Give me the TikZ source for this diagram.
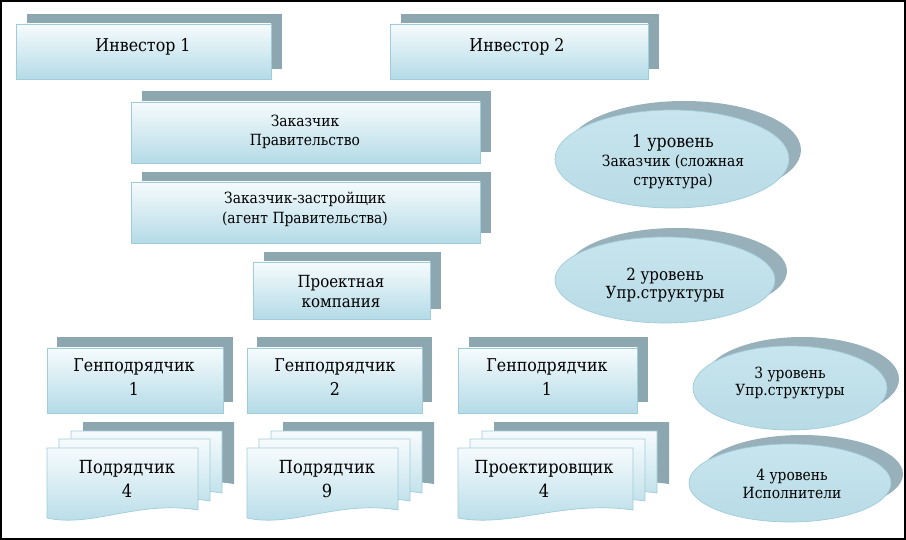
\documentclass[tikz,border=0pt]{standalone}
\usepackage{fontspec}
\setmainfont{DejaVu Serif}[Scale=0.88, FakeStretch=0.9]
\newfontfamily\tnr{DejaVu Serif}[Scale=0.88, FakeStretch=0.9]
\definecolor{shadowc}{RGB}{141,167,177}
\definecolor{eshadow}{RGB}{152,176,186}
\definecolor{boxtop}{RGB}{246,251,253}
\definecolor{boxbot}{RGB}{180,219,231}
\definecolor{boxline}{RGB}{160,204,218}
\definecolor{elltop}{RGB}{200,229,238}
\definecolor{ellmid}{RGB}{230,243,247}
\definecolor{ellbot}{RGB}{184,219,230}
\newcommand\mkbox[6]{%
  \fill[shadowc] ({#1+#5},{#2-#6}) rectangle ({#3+#5},{#4-#6});
  \path[frontst] ({#1},{#2}) rectangle ({#3},{#4});}
\newcommand\mkdoc[4]{%
  \path[#1] ({#2},{#3}) -- ({#2+#4},{#3}) -- ({#2+#4},{#3+62})
    .. controls ({#2+0.6*#4},{#3+52}) and ({#2+0.3*#4},{#3+80}) .. ({#2},{#3+70}) -- cycle;}
\newcommand\mkstack[3]{%
  \mkdoc{shd}{#1+36}{#2-26}{#3}
  \mkdoc{frontst}{#1+24}{#2-17}{#3}
  \mkdoc{frontst}{#1+12}{#2-9}{#3}
  \mkdoc{frontst}{#1}{#2}{#3}}
\newcommand\mkell[4]{%
  \fill[eshadow] ({#1+12},{#2-9}) ellipse [x radius=#3, y radius=#4];
  \path[ellst] ({#1},{#2}) ellipse [x radius=#3, y radius=#4];}
\begin{document}
\begin{tikzpicture}[x=1pt,y=-1pt,
  shd/.style={fill=shadowc, draw=none},
  frontst/.style={top color=boxtop, bottom color=boxbot, draw=boxline, line width=0.7pt},
  ellst/.style={top color=elltop, middle color=ellmid, bottom color=ellbot, draw=boxline, line width=0.7pt},
  lbl/.style={align=center, inner sep=0pt, text=black}]
\useasboundingbox (0,0) rectangle (906,540);
\fill[white] (0,0) rectangle (906,540);

% level 0: investors
\mkbox{16}{24}{271}{79}{11}{10}
\mkbox{390}{24}{648}{79}{11}{10}
\node[lbl, font=\tnr\fontsize{20}{24}\selectfont] (inv1) at (143,47) {Инвестор 1};
\node[lbl, font=\tnr\fontsize{20}{24}\selectfont] (inv2) at (517,47) {Инвестор 2};

% level 1
\mkbox{131}{102}{480}{163}{11}{11}
\mkbox{131}{182}{480}{243}{11}{10}
\node[lbl, font=\tnr\fontsize{17.5}{19}\selectfont] (zak) at (305,132) {Заказчик\\Правительство};
\node[lbl, font=\tnr\fontsize{17.5}{20}\selectfont] (zakz) at (305,209) {Заказчик-застройщик\\(агент Правительства)};

% level 2
\mkbox{253}{262}{430}{319}{11}{10}
\node[lbl, font=\tnr\fontsize{19}{20}\selectfont] (proj) at (341,292) {Проектная\\компания};

% level 3
\mkbox{47}{348}{223}{413}{10}{11}
\mkbox{247}{348}{422}{413}{10}{11}
\mkbox{458}{348}{637}{413}{11}{11}
\node[lbl, font=\tnr\fontsize{20}{24}\selectfont] (gp1) at (134,377) {Генподрядчик\\1};
\node[lbl, font=\tnr\fontsize{20}{24}\selectfont] (gp2) at (335,377) {Генподрядчик\\2};
\node[lbl, font=\tnr\fontsize{20}{24}\selectfont] (gp3) at (547,377) {Генподрядчик\\1};

% level 4
\mkstack{47}{448}{151}
\mkstack{247}{448}{151}
\mkstack{458}{448}{175}
\node[lbl, font=\tnr\fontsize{20.5}{24}\selectfont] (pod4) at (127,479) {Подрядчик\\4};
\node[lbl, font=\tnr\fontsize{20.5}{24}\selectfont] (pod9) at (327,479) {Подрядчик\\9};
\node[lbl, font=\tnr\fontsize{20.5}{24}\selectfont] (prk4) at (544,479) {Проектировщик\\4};

% levels legend
\mkell{672}{159}{117}{49}
\mkell{665}{280}{110}{43}
\mkell{790}{388}{97}{42}
\mkell{790}{483}{101}{39}
\node[lbl, font=\tnr\fontsize{17.5}{19}\selectfont] (lev1) at (673,162) {{\fontsize{20}{19}\selectfont 1 уровень}\\Заказчик (сложная\\структура)};
\node[lbl, font=\tnr\fontsize{19}{18}\selectfont] (lev2) at (665,285) {2 уровень\\Упр.структуры};
\node[lbl, font=\tnr\fontsize{17.5}{17.5}\selectfont] (lev3) at (790,383) {3 уровень\\Упр.структуры};
\node[lbl, font=\tnr\fontsize{17.5}{17.5}\selectfont] (lev4) at (792,484) {4 уровень\\Исполнители};

% frame
\draw[black, line width=2pt] (1,1) rectangle (905,539);
\end{tikzpicture}
\end{document}
